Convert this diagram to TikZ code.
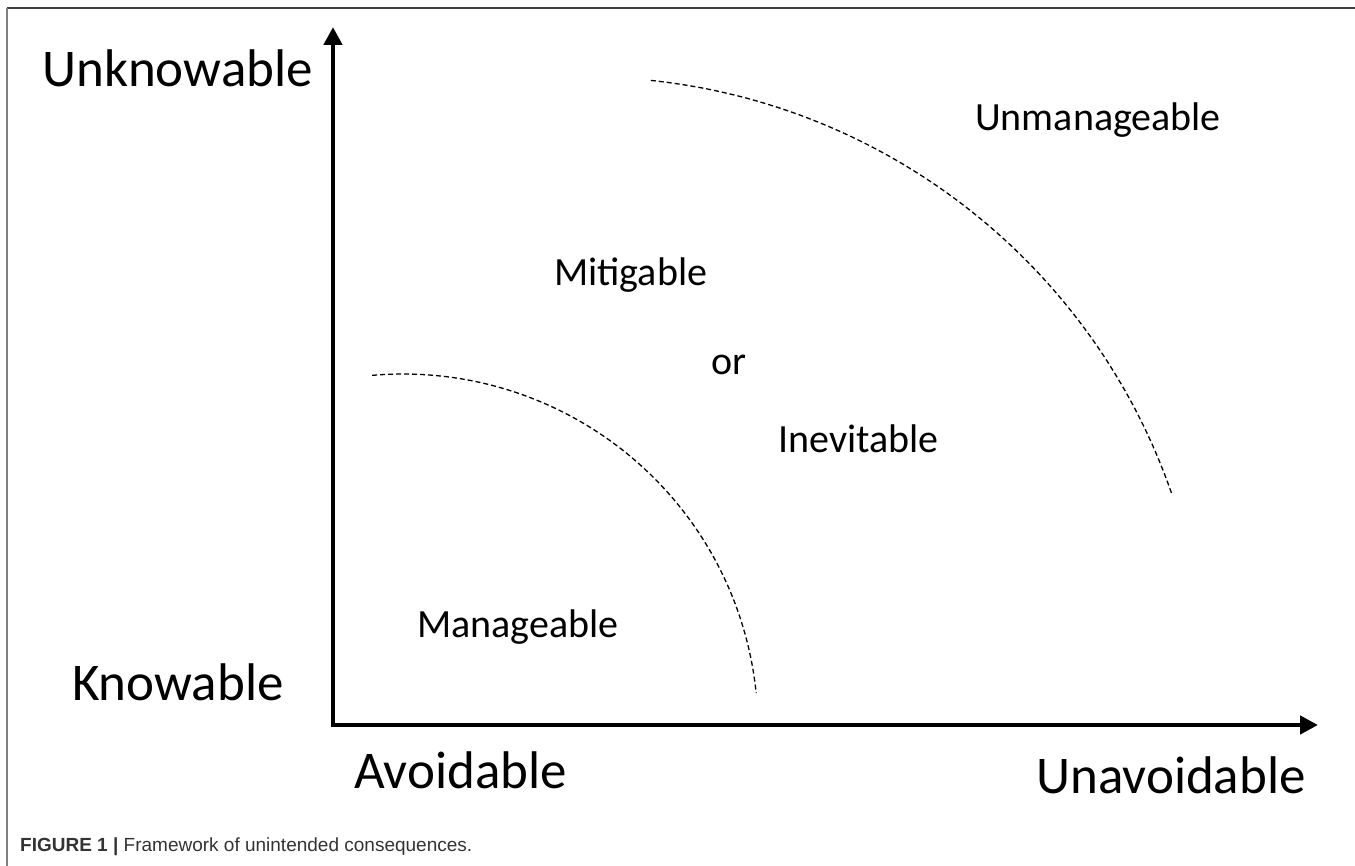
\documentclass[tikz,border=0pt]{standalone}
\usepackage{fontspec}
\setmainfont{Carlito}
\newfontfamily\capfont{Liberation Sans}
\usetikzlibrary{arrows.meta}
\tikzset{
  biglabel/.style={anchor=base west, inner sep=0pt, font=\fontsize{53}{60}\selectfont},
  midlabel/.style={anchor=base west, inner sep=0pt, font=\fontsize{40}{46}\selectfont},
  axisline/.style={line width=4.5pt, -{Triangle[length=18pt,width=18pt]}},
  bound/.style={dash pattern=on 5pt off 3pt, line width=1.3pt},
  frameline/.style={line width=2pt, draw=black!65},
}
\begin{document}
\begin{tikzpicture}[x=1pt,y=-1pt]
\useasboundingbox (0,0) rectangle (1355,866);
% frame
\coordinate (FTL) at (7,8);
\coordinate (FTR) at (1355,8);
\coordinate (FBL) at (7,866);
\draw[frameline, draw=black!75] (FTL) -- (FTR);
\draw[frameline, draw=black!50] (FTL) -- (FBL);
% axes
\coordinate (O) at (333,725);
\coordinate (Ytip) at (333,27);
\coordinate (Xtip) at (1318,725);
\draw[axisline] (333,727.25) -- (Ytip);
\draw[axisline] (330.75,725) -- (Xtip);
% boundaries
\draw[bound] plot[smooth, samples=60, domain=95:5.8] ({403+355*cos(\x)},{729-355*sin(\x)});
\draw[bound] plot[smooth, samples=80, domain=84:19] ({586+620*cos(\x)},{697-620*sin(\x)});
% axis labels
\node[biglabel] (unknowable) at (42,87) {Unknowable};
\node[biglabel] (knowable) at (72,700) {Knowable};
\node[biglabel] (avoidable) at (354,788) {Avoidable};
\node[biglabel] (unavoidable) at (1036,793) {Unavoidable};
% region labels
\node[midlabel] (unmanageable) at (975,131) {Unmanageable};
\node[midlabel] (mitigable) at (554,286) {Mitigable};
\node[midlabel] (or) at (711,375) {or};
\node[midlabel] (inevitable) at (778,453) {Inevitable};
\node[midlabel] (manageable) at (417,637) {Manageable};
% caption
\node[anchor=base west, inner sep=0pt, text=black!80, font=\capfont\fontsize{19}{22}\selectfont] (caption) at (20,851) {\textbf{FIGURE 1 |} Framework of unintended consequences.};
\end{tikzpicture}
\end{document}
